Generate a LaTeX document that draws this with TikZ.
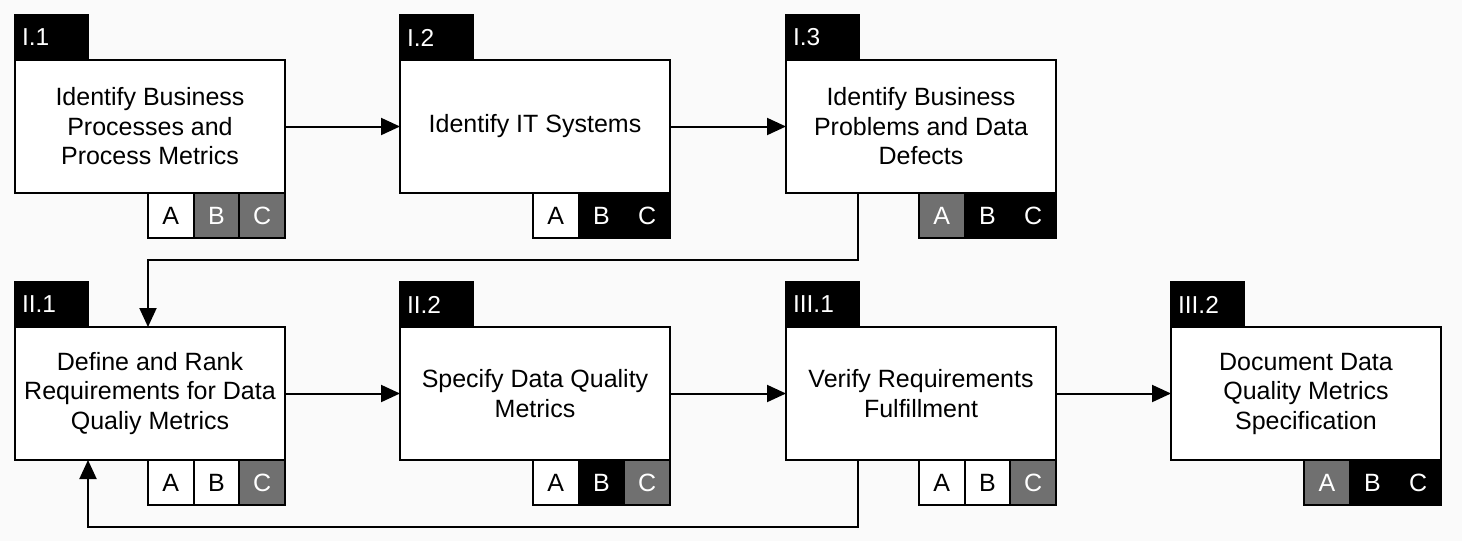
\documentclass[tikz,border=0pt]{standalone}
\usepackage{fontspec}
\setmainfont{Liberation Sans}
\usetikzlibrary{arrows.meta,calc}
\definecolor{bg}{RGB}{250,250,250}
\definecolor{mid}{RGB}{112,112,112}
\newcommand\procbox[8]{%
  \node[box] (#1) at (#2,#3) {#5};
  \node[tagbox] (#1t) at (#1.north west) {#4};
  \node[#8,anchor=north east] (#1c) at (#1.south east) {C};
  \node[#7,anchor=north east] (#1b) at (#1c.north west) {B};
  \node[#6,anchor=north east] (#1a) at (#1b.north west) {A};
}
\begin{document}
\begin{tikzpicture}[x=1pt,y=-1pt,
  every node/.style={outer sep=0pt},
  box/.style={draw,line width=2pt,fill=white,minimum width=270pt,minimum height=133pt,
    anchor=north west,align=center,inner sep=0pt,font=\fontsize{25}{29.5}\selectfont},
  tagbox/.style={draw=black,fill=black,line width=2pt,text=white,minimum height=45pt,
    anchor=south west,inner xsep=7pt,inner ysep=0pt,text width=59pt,align=left,
    font=\fontsize{24.5}{26}\selectfont},
  cell/.style={draw=black,line width=2pt,minimum width=45.67pt,minimum height=45pt,
    inner sep=0pt,font=\fontsize{25}{26}\selectfont},
  cw/.style={cell,fill=white,text=black},
  cg/.style={cell,fill=mid,text=white},
  cb/.style={cell,fill=black,text=white},
  arr/.style={line width=2pt,-{Triangle[length=19pt,width=17pt]}}]
\useasboundingbox[fill=bg] (0,0) rectangle (1462,541);

\procbox{b11}{15}{60}{I.1}{Identify Business\\Processes and\\Process Metrics}{cw}{cg}{cg}
\procbox{b12}{400}{60}{I.2}{Identify IT Systems}{cw}{cb}{cb}
\procbox{b13}{786}{60}{I.3}{Identify Business\\Problems and Data\\Defects}{cg}{cb}{cb}
\procbox{b21}{15}{327}{II.1}{Define and Rank\\Requirements for Data\\Qualiy Metrics}{cw}{cw}{cg}
\procbox{b22}{400}{327}{II.2}{Specify Data Quality\\Metrics}{cw}{cb}{cg}
\procbox{b23}{786}{327}{III.1}{Verify Requirements\\Fulfillment}{cw}{cw}{cg}
\procbox{b24}{1171}{327}{III.2}{Document Data\\Quality Metrics\\Specification}{cg}{cb}{cb}

\draw[arr] (b11.east) -- (b12.west);
\draw[arr] (b12.east) -- (b13.west);
\draw[arr] (b21.east) -- (b22.west);
\draw[arr] (b22.east) -- (b23.west);
\draw[arr] (b23.east) -- (b24.west);

\coordinate (s1) at ($(b13.south west)+(72,0)$);
\coordinate (m1) at (0,260);
\coordinate (t1) at (b21a.west |- b21.north);
\draw[arr] (s1) -- (s1 |- m1) -| (t1);

\coordinate (s2) at ($(b23.south west)+(72,0)$);
\coordinate (m2) at (0,527);
\coordinate (t2) at (b21t.east |- b21.south);
\draw[arr] (s2) -- (s2 |- m2) -| (t2);
\end{tikzpicture}
\end{document}
